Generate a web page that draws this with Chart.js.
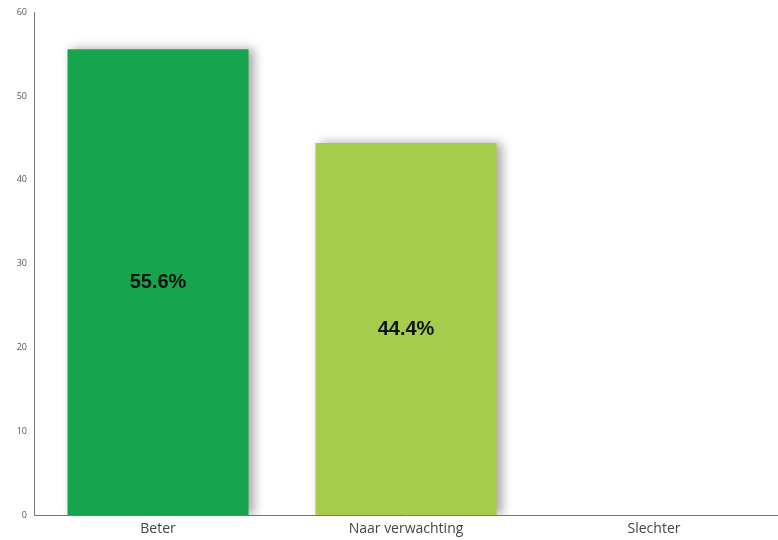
<!DOCTYPE html>
<html>
<head>
<meta charset="utf-8">
<script src="https://cdn.jsdelivr.net/npm/chart.js@4"></script>
<style>
  html, body { margin: 0; padding: 0; background: #fff; }
  .wrap { width: 778px; height: 540px; }
</style>
</head>
<body>
<div class="wrap"><canvas id="myChart"></canvas></div>
<script>
const categories = ["Beter", "Naar verwachting", "Slechter"];
const percentages = [55.6, 44.4, 0];
const barColors = ["#17a44f", "#a6cc4c", "#d9534f"];
const yTicks = [0, 10, 20, 30, 40, 50, 60];

const ctx = document.getElementById("myChart");

// soft shadow on the right of each bar
const barShadow = {
  id: "barShadow",
  beforeDatasetsDraw(chart) {
    const c = chart.ctx;
    c.save();
    c.shadowColor = "rgba(0,0,0,0.35)";
    c.shadowBlur = 10;
    c.shadowOffsetX = 5;
    c.shadowOffsetY = 0;
  },
  afterDatasetsDraw(chart) {
    chart.ctx.restore();
  },
};

// percent text in the middle of each bar
const barLabels = {
  id: "barLabels",
  afterDatasetsDraw(chart) {
    const c = chart.ctx;
    const meta = chart.getDatasetMeta(0);
    c.save();
    c.font = "bold 20px Arial, 'Liberation Sans', sans-serif";
    c.fillStyle = "#111";
    c.textAlign = "center";
    c.textBaseline = "middle";
    meta.data.forEach((bar, i) => {
      if (!percentages[i]) return;
      const mid = (bar.y + bar.base) / 2;
      c.fillText(percentages[i].toFixed(1) + "%", bar.x, mid);
    });
    c.restore();
  },
};

new Chart(ctx, {
  type: "bar",
  data: {
    labels: categories,
    datasets: [
      {
        data: percentages,
        backgroundColor: barColors,
        borderWidth: 0,
        barPercentage: 0.73,
        categoryPercentage: 1,
      },
    ],
  },
  options: {
    responsive: true,
    maintainAspectRatio: false,
    animation: false,
    layout: { padding: { top: 10, right: 0, left: 4, bottom: 0 } },
    plugins: {
      legend: { display: false },
      tooltip: { enabled: false },
    },
    scales: {
      x: {
        grid: { display: false, drawTicks: false },
        border: { color: "#777", width: 1 },
        ticks: {
          color: "#444",
          padding: 6,
          font: { family: "'Open Sans', sans-serif", size: 14 },
        },
        afterFit(axis) {
          axis.height = 25;
        },
      },
      y: {
        min: 0,
        max: 60,
        afterBuildTicks(axis) {
          axis.ticks = yTicks.map((v) => ({ value: v }));
        },
        grid: { display: false, drawTicks: false },
        border: { color: "#777", width: 1 },
        ticks: {
          color: "#555",
          padding: 7,
          font: { family: "'Open Sans', sans-serif", size: 9 },
        },
        afterFit(axis) {
          axis.width = 30;
        },
      },
    },
  },
  plugins: [barShadow, barLabels],
});
</script>
</body>
</html>
